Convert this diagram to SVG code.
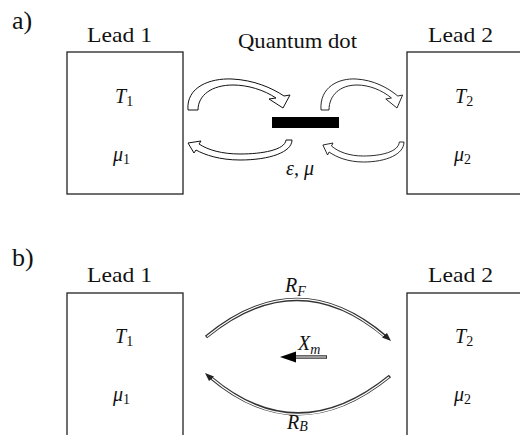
<svg xmlns="http://www.w3.org/2000/svg" xmlns:xlink="http://www.w3.org/1999/xlink" width="520" height="435" viewBox="0 0 520 435">
<style>
text{font-family:"Liberation Serif","Times New Roman",serif;fill:#111;}
.lbl{font-size:21px;}
.pl{font-size:26px;}
.v{font-size:20px;font-style:italic;}
.s{font-size:14px;font-style:normal;}
.si{font-size:14px;font-style:italic;}
.box{fill:#fff;stroke:#222;stroke-width:1.3;}
.ha{fill:#fff;stroke:#111;stroke-width:1;stroke-linejoin:miter;}
.dl{fill:none;stroke:#333;stroke-width:3.4;}
.dw{fill:none;stroke:#fff;stroke-width:1.2;}
</style>
<defs>
<path id="topArrow" d="M0,0 C-2,-23 22,-32 44,-31 C66,-30 84,-22 96,-14 L102,-15 L95,-2 L81,-11 L88,-12 C76,-20 60,-25 45,-25 C24,-25 10,-15 10,0 Z"/>
<path id="botArrow" d="M0,0 C0,12 -22,20 -52,20 C-72,20 -87,15 -96,10 L-98,13 L-104,3 L-91,1 L-93,4 C-84,10 -70,14 -52,14 C-30,14 -7,10 -6,0 Z"/>
</defs>
<rect width="520" height="435" fill="#fff"/>
<text class="pl" x="12" y="29">a)</text>
<text class="pl" x="12" y="266">b)</text>

<g id="lead1a">
<rect class="box" x="67" y="52" width="116" height="142"/>
<text class="lbl" x="87" y="42" textLength="65" lengthAdjust="spacingAndGlyphs">Lead 1</text>
<text class="v" x="115" y="103">T<tspan class="s" dy="3">1</tspan></text>
<text class="v" x="113" y="161">μ<tspan class="s" dy="3">1</tspan></text>
</g>
<g id="qdot">
<rect x="272" y="117" width="67" height="11" fill="#000"/>
<text class="lbl" x="238" y="48" font-size="20" textLength="119" lengthAdjust="spacingAndGlyphs">Quantum dot</text>
<text class="v" x="286" y="175">ε, μ</text>
</g>
<g id="lead2a">
<rect class="box" x="407" y="52" width="130" height="142"/>
<text class="lbl" x="428" y="42" textLength="65" lengthAdjust="spacingAndGlyphs">Lead 2</text>
<text class="v" x="455" y="103">T<tspan class="s" dy="3">2</tspan></text>
<text class="v" x="454" y="161">μ<tspan class="s" dy="3">2</tspan></text>
</g>
<g id="lead1b">
<rect class="box" x="67" y="293" width="116" height="160"/>
<text class="lbl" x="87" y="282" textLength="65" lengthAdjust="spacingAndGlyphs">Lead 1</text>
<text class="v" x="115" y="343">T<tspan class="s" dy="3">1</tspan></text>
<text class="v" x="113" y="401">μ<tspan class="s" dy="3">1</tspan></text>
</g>
<g id="lead2b">
<rect class="box" x="407" y="293" width="130" height="160"/>
<text class="lbl" x="428" y="282" textLength="65" lengthAdjust="spacingAndGlyphs">Lead 2</text>
<text class="v" x="455" y="343">T<tspan class="s" dy="3">2</tspan></text>
<text class="v" x="454" y="401">μ<tspan class="s" dy="3">2</tspan></text>
</g>

<g id="connectors">
<use xlink:href="#topArrow" class="ha" transform="translate(188,110)"/>
<use xlink:href="#topArrow" class="ha" transform="translate(321,110) scale(0.8,1)"/>
<use xlink:href="#botArrow" class="ha" transform="translate(292,140)"/>
<use xlink:href="#botArrow" class="ha" transform="translate(404,142) scale(0.78,1)"/>

<path class="dl" d="M206,337 Q297.5,262 386,337"/>
<path class="dw" d="M207,336.5 Q297.5,262 384,336"/>
<path d="M391,341 L382,337.5 L387,333 Z" fill="#222"/>
<text class="v" x="285" y="292">R<tspan class="si" dy="4">F</tspan></text>

<path class="dl" d="M390,376 Q297.5,451 210,377"/>
<path class="dw" d="M389,377 Q297.5,451 212,378.5"/>
<path d="M205,373 L214,376.5 L209,381 Z" fill="#222"/>
<text class="v" x="287" y="429">R<tspan class="si" dy="2">B</tspan></text>

<path class="dl" d="M327,357 L293,357"/>
<path class="dw" d="M326,357 L293,357"/>
<path d="M280,357 L296,351.5 L296,362.5 Z" fill="#000"/>
<text class="v" x="298" y="350" font-size="21">X<tspan class="si" dy="4">m</tspan></text>
</g>
</svg>
